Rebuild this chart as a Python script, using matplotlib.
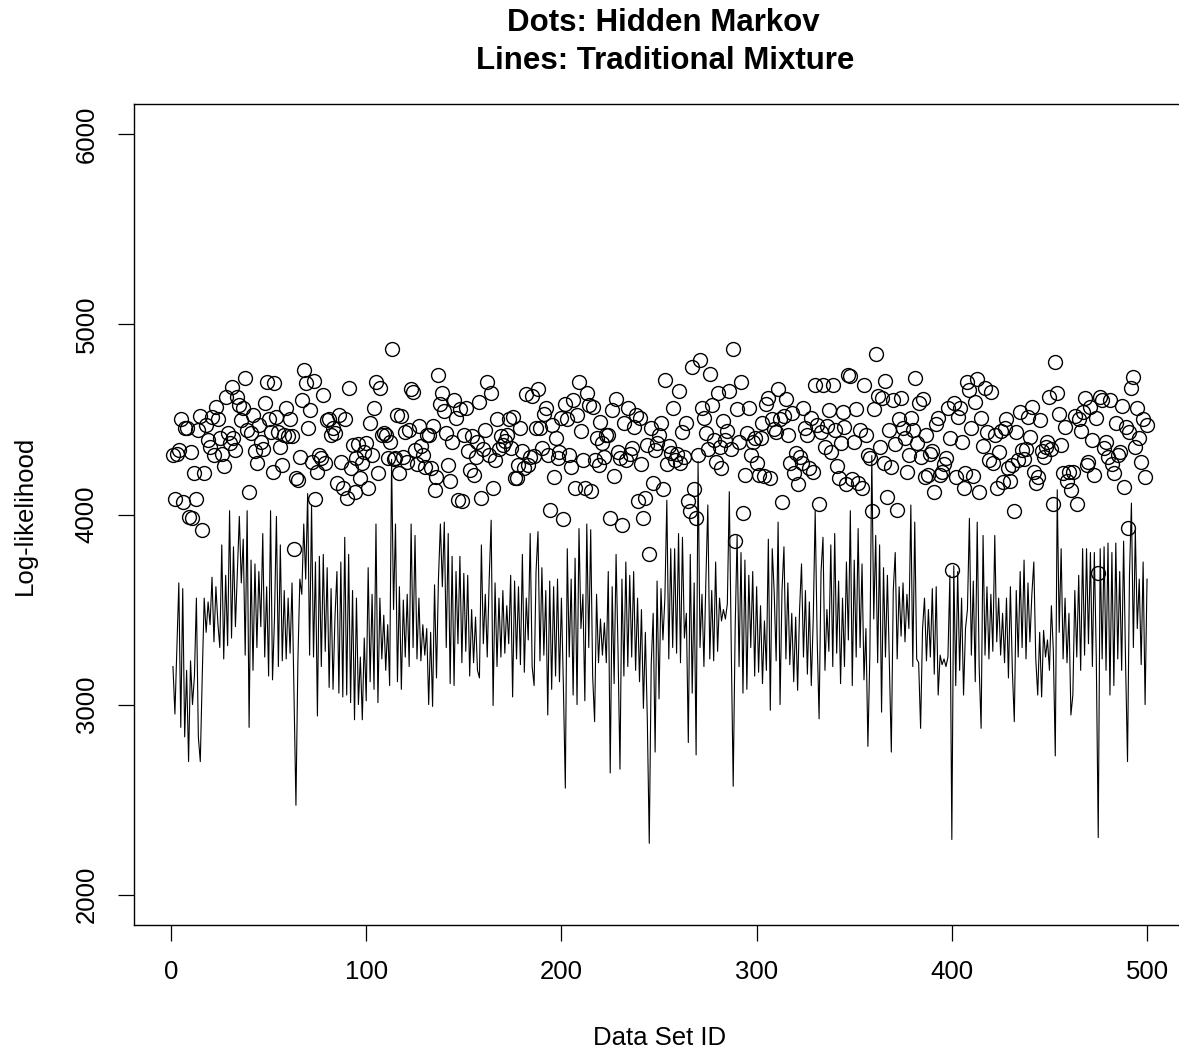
import matplotlib
matplotlib.use("Agg")
import matplotlib.pyplot as plt

plt.rcParams['font.family'] = ['Liberation Sans', 'DejaVu Sans']

# log-likelihood per data set, hidden Markov model (points)
hmm_loglik = [
    4315, 4080, 4320, 4340, 4500, 4066, 4453, 4453, 3985, 4330,
    3980, 4220, 4080, 4445, 4520, 3918, 4220, 4470, 4390, 4355,
    4515, 4312, 4567, 4505, 4400, 4320, 4255, 4620, 4427, 4375,
    4672, 4400, 4340, 4620, 4576, 4497, 4558, 4720, 4445, 4120,
    4427, 4523, 4335, 4270, 4470, 4383,
    4347, 4585, 4698, 4505, 4435, 4225, 4690, 4515, 4435, 4355,
    4260, 4418, 4558, 4415, 4500, 4415, 3818, 4190, 4180, 4305,
    4600, 4760, 4690, 4457, 4550, 4277, 4700, 4080, 4225, 4315,
    4295, 4630, 4270, 4497, 4500, 4418, 4453, 4427, 4164, 4525,
    4277, 4138, 4505, 4085, 4665, 4243, 4368, 4120, 4295, 4373,
    4190,
    4270, 4330, 4374, 4141, 4484, 4312, 4560, 4698, 4217, 4667,
    4420, 4427, 4420, 4295, 4380, 4870, 4290, 4295, 4525, 4217,
    4520, 4300, 4435, 4277, 4445, 4658, 4646, 4340, 4264, 4467,
    4360, 4312, 4250, 4420, 4418, 4245, 4467, 4128, 4198, 4733,
    4580, 4640, 4545, 4427, 4260, 4176, 4383, 4600, 4510, 4075,
    4553, 4071, 4418, 4560, 4333, 4233, 4415, 4208, 4303, 4380,
    4592, 4085, 4347, 4445, 4698, 4315, 4640, 4141, 4285, 4505,
    4347, 4415, 4365, 4387, 4418, 4505, 4350, 4515, 4194, 4190,
    4260, 4453, 4333, 4243, 4635, 4260, 4303, 4623, 4308, 4453,
    4658, 4457, 4350, 4530, 4558, 4312, 4023, 4470, 4198, 4400,
    4295, 4330, 4509, 3976, 4580, 4505, 4312, 4250, 4602, 4138,
    4523, 4698, 4440, 4285, 4138, 4637, 4576, 4124, 4567, 4285,
    4400, 4260, 4488, 4374, 4303, 4418, 4420, 3980, 4550, 4205,
    4607, 4330, 4295, 3944, 4480, 4285, 4558, 4320, 4350, 4462,
    4523, 4071, 4509, 4268, 3980, 4085, 4365, 3790, 4453, 4164,
    4340, 4374, 4418, 4484, 4132, 4707, 4264, 4362, 4322, 4558,
    4287, 4317, 4650, 4270, 4435, 4303, 4480, 4071, 4018, 4777,
    4132, 3983, 4312, 4812, 4558, 4509, 4427, 4347, 4737, 4576,
    4392, 4277, 4637, 4357, 4245, 4490, 4392, 4440, 4650, 4347,
    4870, 3861, 4555, 4383, 4698, 4010, 4208, 4427, 4558, 4312,
    4380, 4400, 4270, 4208, 4403, 4480, 4200, 4580, 4614, 4190,
    4502, 4450, 4435, 4658, 4505, 4068, 4520, 4606, 4418, 4270,
    4532, 4217, 4322, 4159, 4300, 4270, 4558, 4453, 4420, 4243,
    4509, 4222, 4681, 4470, 4054, 4435, 4681, 4357, 4467, 4550,
    4327, 4681, 4445, 4257, 4190, 4374, 4537, 4462, 4159, 4733,
    4730, 4187, 4380, 4553, 4164, 4445, 4141, 4681, 4418, 4312,
    4295, 4019, 4553, 4847, 4623, 4357, 4611, 4270, 4705, 4094,
    4445, 4250, 4600, 4369, 4024, 4505, 4614, 4457, 4400, 4222,
    4315, 4509, 4445, 4719, 4374, 4588, 4303, 4606, 4198, 4420,
    4208, 4320, 4333, 4117, 4474, 4509, 4208, 4225, 4264, 4295,
    4558, 4400, 3710, 4585, 4198, 4515, 4558, 4380, 4141, 4217,
    4698, 4655, 4457, 4205, 4590, 4712, 4120, 4509, 4362, 4667,
    4432, 4285, 4646, 4273, 4420, 4138, 4330, 4438, 4170, 4453,
    4502, 4243, 4176, 4260, 4019, 4432, 4285, 4540, 4340, 4290,
    4347, 4515, 4410, 4567, 4225, 4164, 4198, 4497, 4333, 4303,
    4357, 4383, 4620, 4347, 4054, 4803, 4637, 4527, 4365, 4217,
    4462, 4176, 4225, 4129, 4225, 4520, 4054, 4505, 4440, 4540,
    4611, 4260, 4277, 4567, 4392, 4208, 4509, 3690, 4620, 4602,
    4350, 4380, 4303, 4602, 4268, 4217, 4480, 4315, 4330, 4572,
    4146, 4462, 3927, 4432, 4663, 4724, 4357, 4558, 4400, 4277,
    4505, 4198, 4470,
]

# log-likelihood per data set, traditional mixture model (line)
mix_loglik = [
    3200, 2950, 3290, 3640, 2880, 3610, 2830, 3180, 2700, 3230,
    3000, 3150, 3560, 2830, 2700, 3150, 3560, 3380, 3540, 3420,
    3670, 3330, 3620, 3430, 3300, 3840, 3240, 3680, 3310, 4020,
    3350, 3830, 3410, 3700, 3990, 3640, 3870, 3260, 4020, 2880,
    3760, 3180, 3740, 3300, 3700, 3410, 3900, 3250, 3620, 3150,
    4020, 3130, 3450, 3990, 3200, 3840, 3230, 3600, 3240, 3560,
    3270, 3640, 3050, 2470, 3230, 3660, 3580, 3950, 3660, 4110,
    3260, 4050, 3250, 3750, 2940, 3780, 3200, 3790, 3280, 3720,
    3090, 3610, 3080, 3460, 3700, 3060, 3750, 3040, 3880, 3050,
    3790, 3010, 3600, 2920, 3560, 3000, 3250, 2920, 3350, 3020,
    3720, 3120, 3580, 3080, 3950, 3010, 3560, 3240, 3470, 3180,
    3420, 3100, 4290, 3500, 3950, 3120, 3620, 3080, 3550, 3250,
    3580, 3200, 3950, 3300, 3890, 3240, 3560, 3230, 3420, 3260,
    3400, 3000, 3380, 2990, 3630, 3140, 3660, 3950, 3620, 3960,
    3300, 3900, 3110, 3780, 3100, 3700, 3320, 3780, 3220, 3690,
    3280, 3680, 3150, 3500, 3220, 3460, 3180, 3140, 3840, 3320,
    3580, 3250, 3660, 3970, 2995, 3640, 3200, 3560, 3250, 3600,
    3270, 3520, 3320, 3680, 3040, 3650, 3240, 3620, 3210, 3790,
    3170, 3560, 3340, 3900, 3200, 3100, 3700, 3910, 3230, 3720,
    3260, 3600, 2945, 3650, 3080, 3620, 3150, 3660, 3120, 3560,
    3100, 2560, 3820, 3250, 3660, 3050, 3770, 3000, 3926, 3400,
    3580, 3020, 3950, 3300, 3920, 3150, 2910, 3580, 3220, 3450,
    3260, 3430, 3220, 3700, 2640, 3620, 3110, 3790, 3280, 2660,
    3660, 3150, 3750, 3200, 3680, 3250, 3700, 3180, 3560, 3120,
    3500, 2980, 3380, 2920, 2270, 3210, 3480, 2750, 3650, 3030,
    3610, 3340, 3560, 4075, 3240, 3820, 3300, 3820, 3270, 3900,
    3220, 3880, 3350, 3480, 2800, 3790, 3060, 3640, 2735, 4280,
    3300, 3580, 3200, 3650, 4050, 3240, 3600, 3230, 3750, 3280,
    3560, 3440, 3500, 3450, 3530, 4120, 3300, 2570, 3400, 3890,
    3200, 3800, 3060, 3760, 3080, 3680, 3300, 3700, 3150, 3620,
    3170, 3520, 3110, 3440, 3180, 3870, 2970, 3820, 3590, 3230,
    3960, 3000, 3600, 3830, 3240, 3640, 3210, 3480, 3120, 3460,
    3075, 3500, 3740, 3250, 3600, 3160, 3540, 3100, 3450, 4020,
    3350, 2925, 3700, 3880, 3180, 3500, 3280, 3840, 3200, 3900,
    3270, 3650, 3110, 3560, 3200, 3750, 3340, 4020, 3100, 3760,
    3250, 3926, 3300, 3740, 3130, 3400, 2780, 3260, 4310, 3450,
    3890, 3220, 3840, 2960, 3720, 3250, 3680, 3220, 2750, 3600,
    3800, 3240, 3620, 3360, 3640, 3330, 3580, 3400, 4050, 3200,
    3960, 3240, 3220, 2875, 3400, 3560, 3230, 3500, 3250, 3610,
    3160, 3620, 3050, 3260, 3210, 3240, 3200, 3250, 3680, 2290,
    3730, 3100, 3700, 3180, 3560, 3050, 3400, 3500, 3980, 3260,
    3650, 3120, 3960, 3200, 2875, 3890, 3260, 3620, 3240, 3580,
    3280, 3890, 3330, 3560, 3260, 3480, 3220, 3560, 3140, 3620,
    3180, 2910, 3600, 3250, 3700, 3300, 3760, 3240, 3640, 3330,
    3580, 3750, 3240, 3050, 3380, 3040, 3390, 3250, 3340, 3180,
    3520, 3280, 2730, 4130, 3380, 3820, 3240, 3560, 3220, 3480,
    2945, 3050, 3600, 3250, 3680, 3180, 3820, 3260, 3820, 3320,
    3800, 3200, 3800, 3250, 2300, 3820, 3240, 3830, 3180, 3850,
    3050, 3800, 3100, 3850, 3240, 3700, 3180, 3860, 3220, 2700,
    3680, 4060, 3300, 3920, 3400, 3660, 3210, 3750, 3000, 3660,
]

data_set_id = list(range(1, len(hmm_loglik) + 1))

W, H = 1179, 1052
fig = plt.figure(figsize=(W / 100, H / 100), dpi=100)
fig.patch.set_facecolor("white")

# plot region spills past the right edge of the canvas
ax = fig.add_axes([134 / W, 1 - 925 / H, (1186 - 134) / W, (925 - 104) / H])

ax.plot(data_set_id, hmm_loglik, linestyle="none", marker="o", markersize=10,
        markerfacecolor="none", markeredgecolor="black", markeredgewidth=1.0)
ax.plot(data_set_id, mix_loglik, color="black", linewidth=0.8)

ax.set_xlim(-18.96, 519.96)
ax.set_ylim(1840, 6160)
ax.set_xticks([0, 100, 200, 300, 400, 500])
ax.set_yticks([2000, 3000, 4000, 5000, 6000])
ax.set_yticklabels(["2000", "3000", "4000", "5000", "6000"], rotation=90, va="center")

for side in ["left", "bottom", "top", "right"]:
    ax.spines[side].set_linewidth(1.0)
ax.tick_params(axis="both", direction="out", length=11.5, width=0.9,
               labelsize=18.5, color="black")
ax.tick_params(axis="x", pad=14)
ax.tick_params(axis="y", pad=14)

fig.text(660 / W, 1 - 1038 / H, "Data Set ID", ha="center", va="center", fontsize=18.5)
fig.text(25 / W, 1 - 515 / H, "Log-likelihood", ha="center", va="center",
         rotation=90, fontsize=18.5)
fig.text(663 / W, 1 - 23 / H, "Dots: Hidden Markov", ha="center", va="center",
         fontsize=22.5, fontweight="bold")
fig.text(665 / W, 1 - 61 / H, "Lines: Traditional Mixture", ha="center", va="center",
         fontsize=22.5, fontweight="bold")

fig.savefig("out.png", dpi=100)
